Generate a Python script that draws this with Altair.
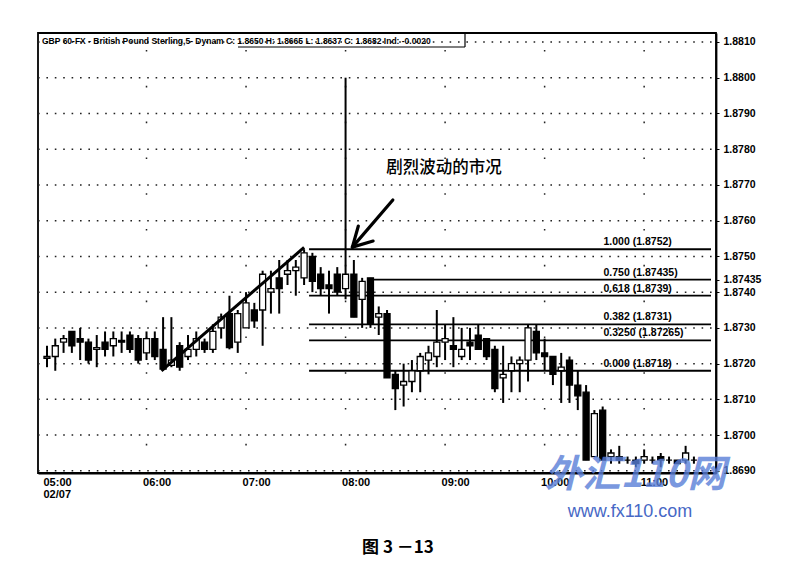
import altair as alt
import pandas as pd

# ---------------- data ----------------
bar_minutes = list(range(0, 395, 5))  # 5-minute bars from 05:00 (minutes after 05:00)

opens = [1.87215, 1.8722, 1.8726, 1.8729, 1.8727, 1.8726, 1.8724, 1.8726, 1.8725, 1.87265,
         1.8728, 1.8727, 1.8723, 1.8727, 1.8724, 1.87195, 1.8725, 1.8722, 1.8724, 1.8726,
         1.8724, 1.8730, 1.8734, 1.8726, 1.8730, 1.8735, 1.8735, 1.8740, 1.8744, 1.8745,
         1.8746, 1.8744, 1.8750, 1.8745, 1.8742, 1.8745, 1.8741, 1.8745, 1.8738, 1.8744,
         1.8733, 1.8734, 1.8717, 1.8714, 1.8715, 1.8718, 1.8721, 1.8722, 1.8726, 1.8725,
         1.8722, 1.8726, 1.8728, 1.8727, 1.8724, 1.8716, 1.8718, 1.8720, 1.8721, 1.8729,
         1.8723, 1.8722, 1.8718, 1.8721, 1.8714, 1.8712, 1.8694, 1.8707, 1.8694, 1.8694,
         1.8693, 1.8693, 1.8693, 1.8693, 1.8694, 1.8693, 1.8693, 1.8693, 1.8693]
highs = [1.8725, 1.8727, 1.8728, 1.8729, 1.8730, 1.8727, 1.8728, 1.8729, 1.8729, 1.8729,
         1.8729, 1.8728, 1.8729, 1.8729, 1.8733, 1.8733, 1.8726, 1.8728, 1.8729, 1.8727,
         1.8731, 1.8734, 1.8739, 1.8735, 1.8740, 1.8737, 1.8746, 1.8746, 1.8749, 1.8749,
         1.8749, 1.8752, 1.8751, 1.8747, 1.8746, 1.8747, 1.8800, 1.8749, 1.8744, 1.8744,
         1.8736, 1.8735, 1.8718, 1.8720, 1.8721, 1.8723, 1.8725, 1.8735, 1.8731, 1.8733,
         1.8730, 1.8730, 1.8731, 1.8727, 1.8725, 1.8725, 1.8722, 1.8722, 1.8731, 1.8731,
         1.8727, 1.8722, 1.8723, 1.8722, 1.8718, 1.8714, 1.8707, 1.8708, 1.8696, 1.8697,
         1.8694, 1.8694, 1.8696, 1.8694, 1.8695, 1.8694, 1.8693, 1.8697, 1.8694]
lows = [1.8719, 1.8718, 1.8723, 1.8723, 1.8721, 1.8720, 1.8719, 1.8722, 1.8722, 1.8723,
        1.8723, 1.8720, 1.8721, 1.8721, 1.8718, 1.8719, 1.8718, 1.8721, 1.8722, 1.8723,
        1.8723, 1.8727, 1.8724, 1.8723, 1.8730, 1.8730, 1.8725, 1.8734, 1.8734, 1.8742,
        1.8739, 1.8742, 1.8740, 1.8739, 1.8734, 1.8739, 1.8738, 1.8733, 1.8730, 1.8730,
        1.8728, 1.8716, 1.8707, 1.8708, 1.8712, 1.8712, 1.8717, 1.8719, 1.8721, 1.8719,
        1.8721, 1.8721, 1.8724, 1.8721, 1.8712, 1.8709, 1.8712, 1.8712, 1.8715, 1.8721,
        1.8718, 1.8714, 1.8709, 1.8709, 1.8707, 1.8693, 1.8694, 1.8693, 1.8692, 1.8692,
        1.8692, 1.8691, 1.8692, 1.8692, 1.8691, 1.8692, 1.8692, 1.8692, 1.8692]
closes = [1.8722, 1.8725, 1.8727, 1.8725, 1.8726, 1.8721, 1.87245, 1.8724, 1.8727, 1.8726,
          1.8724, 1.8721, 1.8727, 1.8722, 1.87185, 1.8721, 1.8719, 1.8724, 1.8727, 1.8724,
          1.8729, 1.8733, 1.87245, 1.8734, 1.8737, 1.8732, 1.8745, 1.8741, 1.8741, 1.8746,
          1.8747, 1.8751, 1.8743, 1.8741, 1.8741, 1.8740, 1.8745, 1.8733, 1.8743, 1.8731,
          1.8734, 1.8716, 1.8713, 1.8715, 1.8718, 1.8722, 1.8723, 1.8726, 1.8727, 1.8724,
          1.8724, 1.8725, 1.8724, 1.8722, 1.8713, 1.8717, 1.8720, 1.8721, 1.8730, 1.8723,
          1.8722, 1.8717, 1.8719, 1.8714, 1.8711, 1.8693, 1.8706, 1.8693, 1.8695, 1.8693,
          1.8693, 1.8692, 1.8694, 1.8693, 1.8693, 1.8693, 1.8692, 1.8695, 1.8693]

hour_ticks = [0, 60, 120, 180, 240, 300, 360]
hour_labels = ["05:00", "06:00", "07:00", "08:00", "09:00", "10:00", "11:00"]
date_label = "02/07"

price_ticks = [1.8690, 1.8700, 1.8710, 1.8720, 1.8730, 1.8740, 1.8750,
               1.8760, 1.8770, 1.8780, 1.8790, 1.8800, 1.8810]
extra_tick = 1.87435

fib_names = ["1.000", "0.750", "0.618", "0.382", "0.3250", "0.000"]
fib_prices = [1.8752, 1.87435, 1.8739, 1.8731, 1.87265, 1.8718]
fib_price_text = ["1.8752", "1.87435", "1.8739", "1.8731", "1.87265", "1.8718"]
fib_start = [158, 194, 158, 158, 158, 158]

trend_minutes = [69, 155]
trend_prices = [1.8718, 1.87525]

annot_text = "剧烈波动的市况"
annot_pos = (239.4, 1.87747)
arrow_tail = (208.5, 1.87658)
arrow_tip = (184.1, 1.87526)
arrow_wing1 = (187.7, 1.87585)
arrow_wing2 = (196.6, 1.87543)

header_text = ("GBP 60-FX - British Pound Sterling,5- Dynam   C: 1.8650   H: 1.8665   "
               "L: 1.8637   C: 1.8682   Ind: -0.0020")
caption = "图 3 －13"
wm_big = "外汇110网"
wm_small = "www.fx110.com"

# ---------------- scales & axes ----------------
X_MIN, X_MAX = -2.4, 400.3
Y_MIN, Y_MAX = 1.86894, 1.88125
xs = alt.Scale(domain=[X_MIN, X_MAX], nice=False, zero=False)
ys = alt.Scale(domain=[Y_MIN, Y_MAX], nice=False, zero=False)
AX_FONT = "Liberation Sans Narrow, Liberation Sans, sans-serif"

W, H = 678, 440

label_expr_x = ("datum.value == 0 ? ['" + hour_labels[0] + "', '" + date_label + "'] : "
                "[" + ",".join("'" + s + "'" for s in hour_labels) + "][round(datum.value/60)]")

x_axis = alt.Axis(values=hour_ticks, labelExpr=label_expr_x, title=None,
                  orient="bottom", ticks=False, grid=False, labelAlign="left",
                  labelPadding=3, labelOffset=-4, labelFont=AX_FONT, labelFontSize=11,
                  labelFontWeight="bold", labelColor="black",
                  domainColor="black", domainWidth=1.8, labelOverlap=False,
                  labelBound=False, labelFlush=False, labelLineHeight=12)
y_axis = alt.Axis(values=price_ticks + [extra_tick], orient="right", title=None,
                  labelExpr="datum.value == " + str(extra_tick) + " ? '" + str(extra_tick)
                            + "' : format(datum.value, '.4f')",
                  grid=False, tickSize=3, tickColor="black", labelPadding=4,
                  labelFont=AX_FONT, labelFontSize=10.5, labelFontWeight="bold",
                  labelColor="black", domainColor="black", domainWidth=1.8,
                  labelOverlap=False, labelBound=False, labelFlush=False)


def X(field):
    return alt.X(field, scale=xs, axis=x_axis)


def Y(field):
    return alt.Y(field, scale=ys, axis=y_axis)


candles = pd.DataFrame({"t": bar_minutes, "open": opens, "high": highs,
                        "low": lows, "close": closes})

hgrid = pd.DataFrame({"p": price_ticks})
vgrid = pd.DataFrame({"m": hour_ticks[1:]})

grid_h = alt.Chart(hgrid).mark_rule(color="#222", strokeWidth=1.5,
                                    strokeDash=[1.6, 6.8]).encode(
    y=Y("p:Q"), x=alt.value(0), x2=alt.value(W))
grid_v = alt.Chart(vgrid).mark_rule(color="#222", strokeWidth=1.5,
                                    strokeDash=[1.6, 34.2], strokeDashOffset=-17).encode(
    x=X("m:Q"), y=alt.value(0), y2=alt.value(H))

fib = pd.DataFrame({"name": fib_names, "p": fib_prices, "ptxt": fib_price_text,
                    "start": fib_start, "end": [X_MAX] * len(fib_names)})
fib["label"] = fib["name"] + " (" + fib["ptxt"] + ")"
fib["lx"] = 335.5

fib_lines = alt.Chart(fib).mark_rule(color="black", strokeWidth=1.8).encode(
    x=X("start:Q"), x2="end:Q", y=Y("p:Q"))
fib_labels = alt.Chart(fib).mark_text(align="left", baseline="bottom", dy=-2,
                                      font="Liberation Sans", fontWeight="bold",
                                      fontSize=10.5, color="black").encode(
    x=X("lx:Q"), y=Y("p:Q"), text="label:N")

wicks = alt.Chart(candles).mark_rule(color="black", strokeWidth=2).encode(
    x=X("t:Q"), y=Y("low:Q"), y2="high:Q")

bodies = alt.Chart(candles).mark_bar(size=6, stroke="black", strokeWidth=1.3).encode(
    x=X("t:Q"), y=Y("open:Q"), y2="close:Q",
    fill=alt.condition(alt.datum.close > alt.datum.open, alt.value("white"), alt.value("black")))

trend = alt.Chart(pd.DataFrame({"m": trend_minutes, "p": trend_prices})).mark_line(
    color="black", strokeWidth=3).encode(x=X("m:Q"), y=Y("p:Q"))

arrow_df = pd.DataFrame({
    "x": [arrow_tail[0], arrow_wing1[0], arrow_wing2[0]],
    "y": [arrow_tail[1], arrow_wing1[1], arrow_wing2[1]],
    "x2": [arrow_tip[0]] * 3,
    "y2": [arrow_tip[1]] * 3})
arrow = alt.Chart(arrow_df).mark_rule(color="black", strokeWidth=3.2, strokeCap="round").encode(
    x=X("x:Q"), x2="x2:Q", y=Y("y:Q"), y2="y2:Q")

annot = alt.Chart(pd.DataFrame({"t": [annot_text], "x": [annot_pos[0]], "y": [annot_pos[1]]})).mark_text(
    font="Noto Sans CJK SC", fontSize=16.5, fontWeight=500, color="black").encode(
    x=X("x:Q"), y=Y("y:Q"), text="t:N")

one = pd.DataFrame({"t": [header_text]})
header = alt.Chart(one).mark_text(align="left", baseline="middle",
                                  font="Liberation Sans Narrow, Liberation Sans",
                                  fontSize=8.5, fontWeight="bold", color="black").encode(
    x=alt.value(4), y=alt.value(8), text="t:N")
header_under = alt.Chart(one).mark_rule(color="black", strokeWidth=1.2).encode(
    x=alt.value(200), x2=alt.value(427), y=alt.value(14))
header_side = alt.Chart(one).mark_rule(color="black", strokeWidth=1.2).encode(
    x=alt.value(427), y=alt.value(0), y2=alt.value(14))

cap = alt.Chart(pd.DataFrame({"t": [caption]})).mark_text(
    font="Noto Sans CJK SC", fontSize=17, fontWeight="bold", color="black").encode(
    x=alt.value(360), y=alt.value(515), text="t:N")

wm1 = alt.Chart(pd.DataFrame({"t": [wm_big]})).mark_text(
    font="Noto Sans CJK SC", fontSize=38, fontWeight="bold", fontStyle="italic",
    color="#5a7fd8", opacity=0.8).encode(
    x=alt.value(597), y=alt.value(443), text="t:N")
wm2 = alt.Chart(pd.DataFrame({"t": [wm_small]})).mark_text(
    font="Liberation Sans", fontSize=18, color="#3358c0", opacity=0.9).encode(
    x=alt.value(592), y=alt.value(479), text="t:N")

chart = alt.layer(
    grid_h, grid_v, fib_lines, wicks, bodies, trend, arrow, fib_labels, annot,
    header, header_under, header_side, wm1, wm2, cap
).properties(
    width=W, height=H,
    autosize=alt.AutoSizeParams(type="none"),
    padding={"left": 30, "top": 25, "right": 60, "bottom": 85},
    background="white",
).configure_view(stroke="black", strokeWidth=1.8)

chart.save("out.html", embed_options={"renderer": "svg", "actions": False})
